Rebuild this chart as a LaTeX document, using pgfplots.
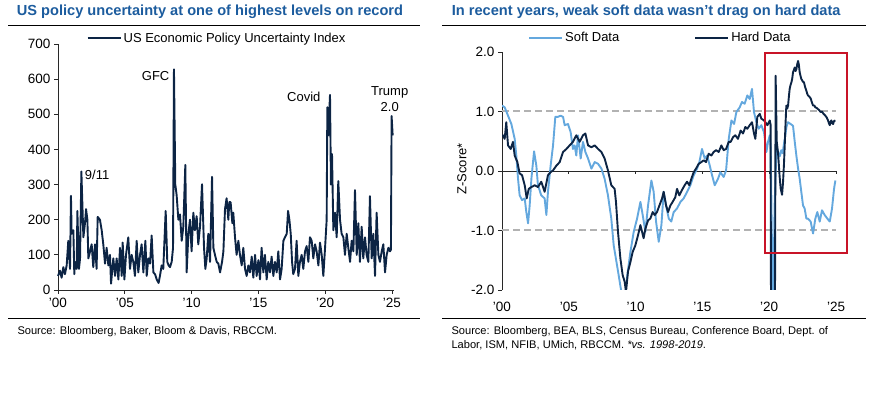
\documentclass[border=0pt]{standalone}
\usepackage{fontspec}
\setmainfont{Liberation Sans}
\usepackage{pgfplots}
\pgfplotsset{compat=1.18}
\definecolor{titleblue}{RGB}{28,92,158}
\definecolor{navy}{RGB}{12,36,68}
\definecolor{softblue}{RGB}{100,168,222}
\definecolor{boxred}{RGB}{200,20,40}
\definecolor{dashgray}{RGB}{178,178,178}
\definecolor{axgray}{RGB}{40,40,40}

\pgfplotstableread{
year val
2000.00 40
2000.15 55
2000.27 35
2000.40 65
2000.52 45
2000.65 70
2000.77 140
2000.90 60
2000.97 268
2001.02 160
2001.15 170
2001.22 45
2001.27 80
2001.40 60
2001.45 225
2001.57 60
2001.65 90
2001.75 337
2001.90 150
2002.02 190
2002.10 230
2002.20 200
2002.27 90
2002.40 110
2002.52 130
2002.64 65
2002.77 130
2002.89 60
2002.97 208
2003.14 200
2003.27 170
2003.39 130
2003.52 75
2003.64 120
2003.77 70
2003.89 100
2003.97 18
2004.14 90
2004.27 40
2004.39 90
2004.52 30
2004.64 120
2004.77 40
2004.84 135
2004.97 30
2005.09 100
2005.26 150
2005.39 60
2005.51 100
2005.64 80
2005.76 40
2005.89 140
2006.01 50
2006.14 100
2006.26 130
2006.39 50
2006.54 140
2006.64 40
2006.76 90
2006.89 75
2007.01 155
2007.14 50
2007.26 45
2007.39 30
2007.53 20
2007.63 40
2007.76 70
2007.88 60
2008.06 225
2008.18 80
2008.28 70
2008.38 65
2008.51 80
2008.61 120
2008.68 628
2008.78 300
2008.88 270
2009.01 200
2009.13 215
2009.26 140
2009.38 180
2009.53 356
2009.63 50
2009.76 160
2009.88 200
2010.00 110
2010.13 220
2010.25 170
2010.38 210
2010.50 130
2010.63 180
2010.78 301
2010.93 120
2011.03 60
2011.13 90
2011.25 160
2011.38 80
2011.53 322
2011.63 120
2011.75 100
2011.88 80
2012.00 75
2012.13 50
2012.28 80
2012.38 110
2012.50 230
2012.62 261
2012.75 200
2012.82 250
2012.92 250
2013.05 190
2013.12 220
2013.25 150
2013.37 100
2013.50 140
2013.62 100
2013.75 70
2013.87 120
2014.00 60
2014.12 40
2014.25 70
2014.37 50
2014.50 95
2014.62 35
2014.75 100
2014.87 40
2015.00 85
2015.12 30
2015.24 120
2015.37 50
2015.49 100
2015.62 30
2015.74 80
2015.87 50
2015.99 95
2016.12 40
2016.24 80
2016.37 50
2016.49 110
2016.62 30
2016.74 60
2016.87 140
2016.99 150
2017.12 160
2017.22 225
2017.32 200
2017.42 160
2017.52 80
2017.61 45
2017.74 60
2017.86 140
2017.99 40
2018.11 80
2018.24 100
2018.36 60
2018.49 110
2018.61 125
2018.74 80
2018.86 150
2018.99 140
2019.11 90
2019.24 130
2019.36 110
2019.49 70
2019.61 135
2019.74 100
2019.86 40
2019.99 120
2020.11 200
2020.16 520
2020.23 440
2020.36 555
2020.43 300
2020.51 387
2020.61 170
2020.73 220
2020.86 150
2020.98 310
2021.11 200
2021.23 160
2021.36 150
2021.48 100
2021.61 160
2021.73 120
2021.86 80
2021.98 140
2022.11 110
2022.23 284
2022.36 100
2022.48 190
2022.60 80
2022.73 180
2022.85 90
2022.98 150
2023.10 100
2023.23 80
2023.35 267
2023.48 90
2023.60 160
2023.73 40
2023.85 220
2023.98 100
2024.10 80
2024.23 110
2024.35 130
2024.48 50
2024.60 100
2024.73 120
2024.85 110
2024.92 115
2024.97 495
2025.05 440
}\epudata

\pgfplotstableread{
year val
2000.00 1.10
2000.20 1.07
2000.45 0.93
2000.70 0.79
2000.95 0.54
2001.07 0.26
2001.20 -0.13
2001.32 -0.41
2001.50 -0.49
2001.70 -0.46
2001.82 -0.69
2001.95 -0.88
2002.07 -0.58
2002.20 -0.13
2002.40 0.33
2002.57 0.09
2002.69 -0.24
2002.94 -0.41
2003.19 -0.46
2003.32 -0.74
2003.44 -0.35
2003.64 0.09
2003.82 0.43
2003.99 0.91
2004.19 0.91
2004.39 0.93
2004.57 0.91
2004.69 0.77
2004.94 0.79
2005.14 0.65
2005.31 0.37
2005.44 0.43
2005.56 0.26
2005.69 0.60
2005.89 0.21
2006.06 0.49
2006.24 0.32
2006.44 0.21
2006.69 0.04
2006.94 0.15
2007.19 0.12
2007.44 0.04
2007.68 -0.13
2007.93 -0.41
2008.18 -0.80
2008.36 -1.25
2008.48 -1.41
2008.73 -1.75
2008.93 -2.03
2009.11 -2.30
2009.35 -1.80
2009.61 -1.36
2009.86 -1.02
2010.11 -0.80
2010.36 -0.52
2010.53 -0.74
2010.73 -1.02
2010.93 -0.58
2011.18 -0.16
2011.35 -0.35
2011.53 -0.85
2011.73 -1.19
2011.93 -0.91
2012.10 -0.35
2012.28 -0.58
2012.48 -0.80
2012.67 -0.85
2012.85 -0.69
2013.10 -0.63
2013.35 -0.52
2013.60 -0.46
2013.85 -0.35
2014.10 -0.24
2014.35 -0.07
2014.60 0.04
2014.77 0.15
2014.97 0.37
2015.17 0.21
2015.35 0.26
2015.55 0.09
2015.72 -0.07
2015.92 -0.24
2016.17 -0.13
2016.34 -0.02
2016.59 -0.10
2016.77 0.01
2016.97 0.54
2017.17 0.85
2017.37 0.79
2017.54 0.99
2017.79 1.07
2017.96 1.16
2018.16 1.13
2018.36 1.27
2018.54 1.21
2018.71 1.38
2018.86 0.99
2019.04 0.82
2019.21 0.71
2019.41 0.77
2019.61 0.65
2019.79 0.32
2019.91 0.49
2020.04 0.60
2020.11 0.37
2020.20 -1.20
2020.30 -2.40
2020.40 -0.60
2020.50 0.10
2020.60 0.37
2020.70 0.30
2020.80 0.25
2020.90 0.35
2021.00 0.30
2021.10 0.45
2021.20 0.60
2021.30 0.75
2021.40 0.82
2021.53 0.80
2021.66 0.78
2021.78 0.76
2021.91 0.49
2022.03 0.26
2022.16 0.04
2022.28 -0.13
2022.40 -0.35
2022.53 -0.58
2022.65 -0.63
2022.78 -0.80
2022.90 -0.80
2023.10 -0.85
2023.28 -1.05
2023.45 -0.80
2023.60 -0.69
2023.78 -0.85
2023.95 -0.66
2024.15 -0.74
2024.35 -0.80
2024.53 -0.85
2024.70 -0.63
2024.85 -0.30
2024.95 -0.16
}\softdata

\pgfplotstableread{
year val
2000.00 0.58
2000.07 0.60
2000.20 0.54
2000.32 0.82
2000.45 0.43
2000.65 0.37
2000.82 0.49
2000.95 0.26
2001.15 0.15
2001.32 -0.04
2001.50 -0.07
2001.70 -0.24
2001.85 -0.46
2002.00 -0.30
2002.20 -0.27
2002.45 -0.24
2002.69 -0.27
2002.94 -0.18
2003.19 -0.35
2003.44 -0.07
2003.64 -0.02
2003.82 0.01
2004.07 0.09
2004.32 0.15
2004.57 0.32
2004.82 0.37
2005.06 0.43
2005.31 0.49
2005.56 0.60
2005.81 0.49
2006.06 0.60
2006.24 0.63
2006.44 0.43
2006.69 0.40
2006.94 0.43
2007.19 0.37
2007.44 0.32
2007.68 0.21
2007.93 0.01
2008.18 -0.24
2008.43 -0.30
2008.53 -0.52
2008.68 -1.02
2008.86 -1.47
2009.03 -1.75
2009.18 -1.86
2009.28 -2.03
2009.43 -1.69
2009.61 -1.53
2009.78 -1.36
2009.98 -1.25
2010.18 -1.08
2010.36 -0.91
2010.48 -1.02
2010.60 -1.13
2010.73 -0.97
2010.93 -0.83
2011.10 -0.80
2011.28 -0.69
2011.43 -0.74
2011.60 -0.69
2011.78 -0.58
2011.98 -0.46
2012.10 -0.35
2012.28 -0.58
2012.43 -0.69
2012.60 -0.58
2012.77 -0.52
2012.97 -0.44
2013.10 -0.30
2013.27 -0.41
2013.47 -0.32
2013.67 -0.24
2013.85 -0.18
2014.02 -0.24
2014.17 -0.13
2014.35 -0.02
2014.52 0.04
2014.72 0.12
2014.92 0.15
2015.10 0.18
2015.27 0.15
2015.47 0.29
2015.67 0.26
2015.84 0.32
2016.02 0.35
2016.22 0.32
2016.42 0.43
2016.59 0.35
2016.77 0.37
2016.97 0.49
2017.12 0.49
2017.29 0.57
2017.46 0.60
2017.66 0.54
2017.86 0.68
2018.04 0.63
2018.21 0.74
2018.36 0.71
2018.54 0.77
2018.71 0.82
2018.86 0.63
2018.96 0.54
2019.11 0.91
2019.29 0.96
2019.41 0.88
2019.61 0.85
2019.71 0.82
2019.86 0.77
2020.04 0.85
2020.10 0.78
2020.15 -4.00
2020.30 -4.50
2020.42 -3.00
2020.48 1.60
2020.56 0.50
2020.66 0.30
2020.72 0.10
2020.78 -0.10
2020.86 -0.30
2020.96 -0.40
2021.03 -0.20
2021.10 0.10
2021.16 0.43
2021.22 0.80
2021.28 1.10
2021.35 1.05
2021.41 1.10
2021.47 1.25
2021.53 1.38
2021.60 1.45
2021.66 1.49
2021.72 1.55
2021.78 1.66
2021.85 1.70
2021.91 1.74
2021.97 1.68
2022.03 1.71
2022.10 1.80
2022.16 1.85
2022.22 1.78
2022.28 1.66
2022.34 1.60
2022.40 1.55
2022.47 1.52
2022.53 1.50
2022.60 1.49
2022.70 1.40
2022.78 1.35
2022.84 1.30
2022.90 1.27
2023.00 1.25
2023.10 1.22
2023.20 1.15
2023.28 1.10
2023.38 1.10
2023.45 1.07
2023.55 1.06
2023.65 1.04
2023.75 1.02
2023.85 0.99
2023.95 1.00
2024.03 0.97
2024.12 0.95
2024.20 0.93
2024.30 0.90
2024.40 0.85
2024.47 0.80
2024.53 0.77
2024.60 0.83
2024.65 0.85
2024.72 0.80
2024.78 0.79
2024.85 0.84
2024.95 0.85
}\harddata

\begin{document}
\begin{tikzpicture}[x=1pt,y=1pt]
\useasboundingbox (0,0) rectangle (892,393);

% titles and rules
\node[anchor=west, text=titleblue, font=\fontsize{14.6}{17}\selectfont\bfseries, inner sep=0pt] at (16.7,381) {US policy uncertainty at one of highest levels on record};
\node[anchor=west, text=titleblue, font=\fontsize{14.6}{17}\selectfont\bfseries, inner sep=0pt] at (451.7,381) {In recent years, weak soft data wasn’t drag on hard data};
\draw[line width=0.9pt, black] (8,368) -- (420,368);
\draw[line width=0.9pt, black] (442,368) -- (866,368);
\draw[line width=0.9pt, black] (8,75) -- (420,75);
\draw[line width=0.9pt, black] (442,75) -- (866,75);

% sources
\node[anchor=west, font=\fontsize{11.1}{13}\selectfont, inner sep=0pt] at (17.3,61) {Source: Bloomberg, Baker, Bloom \& Davis, RBCCM.};
\node[anchor=west, font=\fontsize{11.1}{13}\selectfont, inner sep=0pt] at (451.3,61) {Source: Bloomberg, BEA, BLS, Census Bureau, Conference Board, Dept. of};
\node[anchor=west, font=\fontsize{11.1}{13}\selectfont, inner sep=0pt] at (451.3,48) {Labor, ISM, NFIB, UMich, RBCCM. \textit{*vs. 1998-2019}.};

% Z-score label
\node[rotate=90, font=\fontsize{13}{15}\selectfont, inner sep=0pt] at (462,224) {Z-Score*};

% ---------------- left chart
\begin{axis}[
  at={(58pt,103pt)}, anchor=south west, scale only axis,
  width=336pt, height=246pt,
  xmin=2000, xmax=2025.15, ymin=0, ymax=700,
  axis x line*=bottom, axis y line*=left,
  axis line style={axgray, line width=0.8pt, -},
  tick style={axgray, line width=0.8pt},
  tick align=outside, major tick length=4pt,
  xtick={2000,2005,2010,2015,2020,2025},
  xticklabels={'00,'05,'10,'15,'20,'25},
  ytick={0,100,...,700},
  /pgf/number format/assume math mode=true,
  ticklabel style={font=\fontsize{13.5}{15}\selectfont},
  xticklabel style={yshift=-1pt},
  legend style={draw=none, fill=none, at={(axis description cs:0.085,1.024)}, anchor=west,
    font=\fontsize{13}{15}\selectfont, inner sep=0pt},
  legend image code/.code={\draw[#1] (0pt,0pt) -- (33pt,0pt);},
  clip=false,
]
\addplot[navy, line width=1.9pt, line join=round] table[x=year, y=val] {\epudata};
\addlegendentry{US Economic Policy Uncertainty Index}
\node[anchor=west, font=\fontsize{13}{15}\selectfont, inner sep=0pt] at (axis cs:2002.0,327) {9/11};
\node[anchor=east, font=\fontsize{13}{15}\selectfont, inner sep=0pt] at (axis cs:2008.35,609) {GFC};
\node[font=\fontsize{13}{15}\selectfont, inner sep=0pt] at (axis cs:2018.4,549) {Covid};
\node[align=center, font=\fontsize{13}{15.5}\selectfont, inner sep=0pt] at (axis cs:2024.83,543) {Trump\\2.0};
\end{axis}

% ---------------- right chart
\begin{axis}[
  at={(502pt,103pt)}, anchor=south west, scale only axis,
  width=347.4pt, height=238pt,
  xmin=2000, xmax=2026, ymin=-2, ymax=2,
  axis x line*=bottom, axis y line*=left,
  x axis line style={draw=none},
  y axis line style={axgray, line width=0.8pt, -},
  xtick style={draw=none},
  ytick style={axgray, line width=0.8pt},
  tick align=outside, major tick length=4pt,
  xtick={2000,2005,2010,2015,2020,2025},
  xticklabels={'00,'05,'10,'15,'20,'25},
  ytick={-2,-1,0,1,2},
  yticklabels={-2.0,-1.0,0.0,1.0,2.0},
  ticklabel style={font=\fontsize{13.5}{15}\selectfont},
  xticklabel style={yshift=-5pt},
  legend style={draw=none, fill=none, at={(axis description cs:0.075,1.059)}, anchor=west,
    font=\fontsize{13}{15}\selectfont, inner sep=0pt, legend columns=2,
    /tikz/column 2/.style={column sep=73pt}},
  legend image code/.code={\draw[#1] (0pt,0pt) -- (33pt,0pt);},
]
\addplot[dashgray, line width=2pt, dash pattern=on 7pt off 4pt, forget plot] coordinates {(2000,1) (2025,1)};
\addplot[dashgray, line width=2pt, dash pattern=on 7pt off 4pt, forget plot] coordinates {(2000,-1) (2025,-1)};
\addplot[axgray, line width=0.8pt, forget plot] coordinates {(2000,0) (2025,0)};
\draw[axgray, line width=0.8pt] (axis cs:2005,0) -- ++(0pt,-3pt);
\draw[axgray, line width=0.8pt] (axis cs:2010,0) -- ++(0pt,-3pt);
\draw[axgray, line width=0.8pt] (axis cs:2015,0) -- ++(0pt,-3pt);
\draw[axgray, line width=0.8pt] (axis cs:2020,0) -- ++(0pt,-3pt);
\draw[axgray, line width=0.8pt] (axis cs:2025,0) -- ++(0pt,-3pt);
\addplot[softblue, line width=1.9pt, line join=round] table[x=year, y=val] {\softdata};
\addlegendentry{Soft Data}
\addplot[navy, line width=1.9pt, line join=round] table[x=year, y=val] {\harddata};
\addlegendentry{Hard Data}
\draw[boxred, line width=1.8pt] (axis cs:2019.7,1.98) rectangle (axis cs:2025.83,-1.38);
\end{axis}
\end{tikzpicture}
\end{document}
